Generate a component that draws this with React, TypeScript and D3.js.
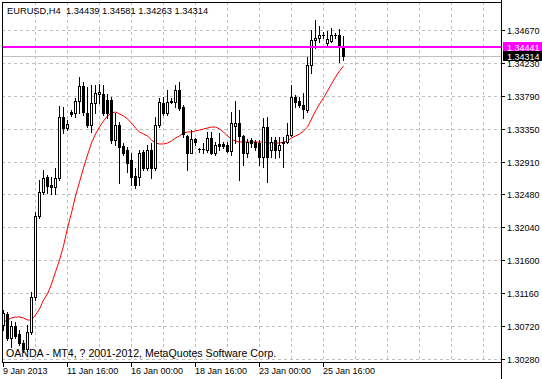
import React from "react";
import * as d3 from "d3";

const symbol = "EURUSD,H4";
const footer = "OANDA - MT4, ? 2001-2012, MetaQuotes Software Corp.";

const opens = [
  1.30733, 1.30880, 1.30560, 1.30720, 1.30613, 1.30493, 1.30413, 1.30640, 1.31107, 1.32187,
  1.32507, 1.32707, 1.32600, 1.32573, 1.32693, 1.33507, 1.33360, 1.33573, 1.33560, 1.33720,
  1.33920, 1.33560, 1.33400, 1.33693, 1.33813, 1.33813, 1.33733, 1.33733, 1.33200, 1.33400,
  1.33120, 1.33067, 1.32933, 1.32720, 1.32707, 1.33040, 1.32827, 1.33067, 1.32827, 1.33400,
  1.33693, 1.33560, 1.33720, 1.33707, 1.33867, 1.33640, 1.33253, 1.33027, 1.33213, 1.33080,
  1.33080, 1.33067, 1.33227, 1.33027, 1.33147, 1.33147, 1.33133, 1.33053, 1.33387, 1.33427,
  1.33253, 1.33027, 1.33200, 1.33173, 1.33160, 1.32973, 1.33373, 1.33067, 1.33200, 1.33067,
  1.33173, 1.33173, 1.33267, 1.33773, 1.33720, 1.33667, 1.33600, 1.34200, 1.34533, 1.34560,
  1.34600, 1.34493, 1.34520, 1.34600, 1.34600, 1.34439,
];
const highs = [
  1.30933, 1.30907, 1.30787, 1.30773, 1.30667, 1.30533, 1.30733, 1.31173, 1.32240, 1.32667,
  1.32800, 1.32733, 1.32707, 1.32827, 1.33653, 1.33640, 1.33467, 1.33600, 1.33760, 1.34040,
  1.33973, 1.33907, 1.33933, 1.33933, 1.33947, 1.33933, 1.33813, 1.33773, 1.33560, 1.33440,
  1.33160, 1.33107, 1.33027, 1.32827, 1.33067, 1.33067, 1.33133, 1.33160, 1.33507, 1.33760,
  1.33773, 1.33867, 1.33760, 1.33933, 1.33973, 1.33667, 1.33267, 1.33333, 1.33220, 1.33093,
  1.33160, 1.33307, 1.33307, 1.33173, 1.33293, 1.33173, 1.33173, 1.33573, 1.33720, 1.33600,
  1.33267, 1.33213, 1.33227, 1.33200, 1.33200, 1.33493, 1.33507, 1.33240, 1.33240, 1.33240,
  1.33240, 1.33427, 1.33933, 1.33800, 1.33773, 1.33827, 1.34307, 1.34667, 1.34800, 1.34720,
  1.34640, 1.34653, 1.34693, 1.34627, 1.34680, 1.34581,
];
const lows = [
  1.30667, 1.30533, 1.30440, 1.30560, 1.30467, 1.30373, 1.30387, 1.30613, 1.31067, 1.32160,
  1.32480, 1.32493, 1.32480, 1.32480, 1.32667, 1.33293, 1.33333, 1.33520, 1.33507, 1.33560,
  1.33533, 1.33373, 1.33307, 1.33560, 1.33693, 1.33533, 1.33493, 1.33160, 1.33133, 1.32627,
  1.33000, 1.32773, 1.32600, 1.32560, 1.32600, 1.32800, 1.32800, 1.32693, 1.32800, 1.33373,
  1.33533, 1.33533, 1.33693, 1.33640, 1.33600, 1.33240, 1.32800, 1.33020, 1.33133, 1.33040,
  1.33027, 1.33040, 1.33013, 1.33000, 1.33067, 1.33093, 1.33040, 1.33000, 1.33160, 1.32667,
  1.32867, 1.32973, 1.33107, 1.33067, 1.32867, 1.32840, 1.32640, 1.32973, 1.32960, 1.32973,
  1.32840, 1.33160, 1.33253, 1.33640, 1.33640, 1.33493, 1.33573, 1.34093, 1.34427, 1.34507,
  1.34560, 1.34440, 1.34507, 1.34560, 1.34240, 1.34263,
];
const closes = [
  1.30893, 1.30560, 1.30720, 1.30587, 1.30493, 1.30413, 1.30640, 1.31107, 1.32187, 1.32507,
  1.32693, 1.32587, 1.32573, 1.32693, 1.33507, 1.33360, 1.33413, 1.33547, 1.33720, 1.33920,
  1.33573, 1.33400, 1.33693, 1.33827, 1.33840, 1.33560, 1.33560, 1.33200, 1.33400, 1.33107,
  1.33027, 1.32893, 1.32707, 1.32600, 1.33027, 1.32827, 1.33067, 1.32827, 1.33400, 1.33707,
  1.33560, 1.33707, 1.33713, 1.33867, 1.33627, 1.33280, 1.33027, 1.33213, 1.33173, 1.33083,
  1.33077, 1.33227, 1.33027, 1.33133, 1.33120, 1.33120, 1.33053, 1.33427, 1.33427, 1.33253,
  1.33027, 1.33173, 1.33160, 1.33107, 1.32973, 1.33373, 1.32973, 1.33173, 1.33067, 1.33133,
  1.33160, 1.33267, 1.33773, 1.33707, 1.33667, 1.33613, 1.34200, 1.34533, 1.34560, 1.34600,
  1.34597, 1.34547, 1.34600, 1.34603, 1.34439, 1.34314,
];
const maValues = [
  1.30773, 1.30800, 1.30827, 1.30840, 1.30840, 1.30827, 1.30800, 1.30800, 1.30867, 1.30947,
  1.31067, 1.31147, 1.31280, 1.31440, 1.31600, 1.31787, 1.32027, 1.32227, 1.32453, 1.32640,
  1.32827, 1.33000, 1.33160, 1.33280, 1.33373, 1.33453, 1.33520, 1.33560, 1.33573, 1.33547,
  1.33520, 1.33480, 1.33427, 1.33360, 1.33307, 1.33280, 1.33253, 1.33200, 1.33160, 1.33147,
  1.33147, 1.33160, 1.33187, 1.33227, 1.33253, 1.33293, 1.33307, 1.33307, 1.33320, 1.33333,
  1.33347, 1.33360, 1.33373, 1.33373, 1.33347, 1.33307, 1.33253, 1.33213, 1.33187, 1.33173,
  1.33173, 1.33173, 1.33173, 1.33173, 1.33173, 1.33173, 1.33160, 1.33160, 1.33160, 1.33160,
  1.33173, 1.33187, 1.33227, 1.33253, 1.33280, 1.33320, 1.33373, 1.33480, 1.33587, 1.33680,
  1.33760, 1.33853, 1.33947, 1.34040, 1.34120, 1.34187,
];

const priceTicks = [1.3467, 1.3423, 1.3379, 1.3335, 1.3291, 1.3248, 1.3204, 1.316, 1.3116, 1.3072, 1.3028];
const timeLabels = ["9 Jan 2013", "11 Jan 16:00", "16 Jan 00:00", "18 Jan 16:00", "23 Jan 00:00", "25 Jan 16:00"];
const timeLabelBars = [0, 16, 32, 48, 64, 80];
const gridBars = [8, 16, 24, 32, 40, 48, 56, 64, 72, 80, 88, 96, 104, 112, 120];
const levelPrice = 1.34441;
const bidPrice = closes[closes.length - 1];

const W = 542;
const H = 379;
const L = 2;
const R = 501;
const T = 2;
const B = 362;
const FONT = "'Liberation Sans', Arial, sans-serif";

export default function App() {
  const x = d3.scaleLinear().domain([0, 1]).range([3, 7]);
  const y = d3.scaleLinear().domain([1.3024, 1.3504]).range([B, T]);
  const py = (p: number) => Math.round(y(p));

  const maLine = d3
    .line<number>()
    .x((_, i) => x(i) + 0.5)
    .y((d) => y(d));

  const gridColor = "#c0c0c0";
  const header = `${symbol}  ${opens[opens.length - 1].toFixed(5)} ${highs[highs.length - 1].toFixed(5)} ${lows[lows.length - 1].toFixed(5)} ${closes[closes.length - 1].toFixed(5)}`;

  return (
    <svg
      width={W}
      height={H}
      style={{ position: "absolute", left: 0, top: 0, background: "#fff" }}
      fontFamily={FONT}
    >
      <rect x={0} y={0} width={W} height={H} fill="#fff" />
      <g shapeRendering="crispEdges">
        {priceTicks.map((p) => (
          <line
            key={"h" + p}
            x1={L}
            x2={R}
            y1={py(p) + 0.5}
            y2={py(p) + 0.5}
            stroke={gridColor}
            strokeDasharray="3,3"
          />
        ))}
        {gridBars.map((b) => (
          <line
            key={"v" + b}
            x1={x(b) + 0.5}
            x2={x(b) + 0.5}
            y1={T}
            y2={B}
            stroke={gridColor}
            strokeDasharray="3,3"
          />
        ))}
        <line x1={L} x2={R} y1={py(bidPrice) + 0.5} y2={py(bidPrice) + 0.5} stroke="#c0c0c0" />
      </g>
      <path d={maLine(maValues) || ""} fill="none" stroke="#ff0000" strokeWidth={1} />
      <g shapeRendering="crispEdges">
        {opens.map((o, i) => {
          const c = closes[i];
          const xc = x(i);
          const yo = py(o);
          const yc = py(c);
          const top = Math.min(yo, yc);
          const bot = Math.max(yo, yc);
          const bull = c >= o;
          return (
            <g key={"c" + i}>
              <line x1={xc + 0.5} x2={xc + 0.5} y1={py(highs[i])} y2={py(lows[i]) + 1} stroke="#000" />
              {bot - top < 1 ? (
                <line x1={xc - 1} x2={xc + 2} y1={top + 0.5} y2={top + 0.5} stroke="#000" />
              ) : bull ? (
                <rect x={xc - 0.5} y={top + 0.5} width={2} height={bot - top} fill="#fff" stroke="#000" />
              ) : (
                <rect x={xc - 1} y={top} width={3} height={bot - top + 1} fill="#000" />
              )}
            </g>
          );
        })}
        <rect x={L} y={py(levelPrice) - 1} width={R - L} height={2} fill="#ff00ff" />
        <line x1={L + 0.5} x2={L + 0.5} y1={T} y2={B + 1} stroke="#000" />
        <line x1={L} x2={R + 1} y1={T + 0.5} y2={T + 0.5} stroke="#000" />
        <line x1={L} x2={R + 1} y1={B + 0.5} y2={B + 0.5} stroke="#000" />
        <line x1={R + 0.5} x2={R + 0.5} y1={0} y2={H} stroke="#000" />
        {priceTicks.map((p) => (
          <line key={"tk" + p} x1={R} x2={R + 4} y1={py(p) + 0.5} y2={py(p) + 0.5} stroke="#000" />
        ))}
        {timeLabelBars.map((b) => (
          <line key={"xt" + b} x1={x(b) + 0.5} x2={x(b) + 0.5} y1={B} y2={B + 5} stroke="#000" />
        ))}
      </g>
      {priceTicks.map((p) => (
        <text key={"t" + p} x={507} y={py(p) + 4} fontSize={9} fill="#000">
          {p.toFixed(5)}
        </text>
      ))}
      <rect x={503} y={py(levelPrice) - 5} width={39} height={10} fill="#ff00ff" />
      <text x={507} y={py(levelPrice) + 4} fontSize={9} fill="#fff">
        {levelPrice.toFixed(5)}
      </text>
      <rect x={503} y={py(bidPrice) - 5} width={39} height={10} fill="#000" />
      <text x={507} y={py(bidPrice) + 4} fontSize={9} fill="#fff">
        {bidPrice.toFixed(5)}
      </text>
      {timeLabelBars.map((b, k) => (
        <text key={"x" + b} x={x(b)} y={374} fontSize={9} fill="#000">
          {timeLabels[k]}
        </text>
      ))}
      <text x={7} y={14} fontSize={9.3} fill="#000" style={{ whiteSpace: "pre" }}>
        {header}
      </text>
      <text x={6} y={357} fontSize={10.6} fill="#000">
        {footer}
      </text>
    </svg>
  );
}
